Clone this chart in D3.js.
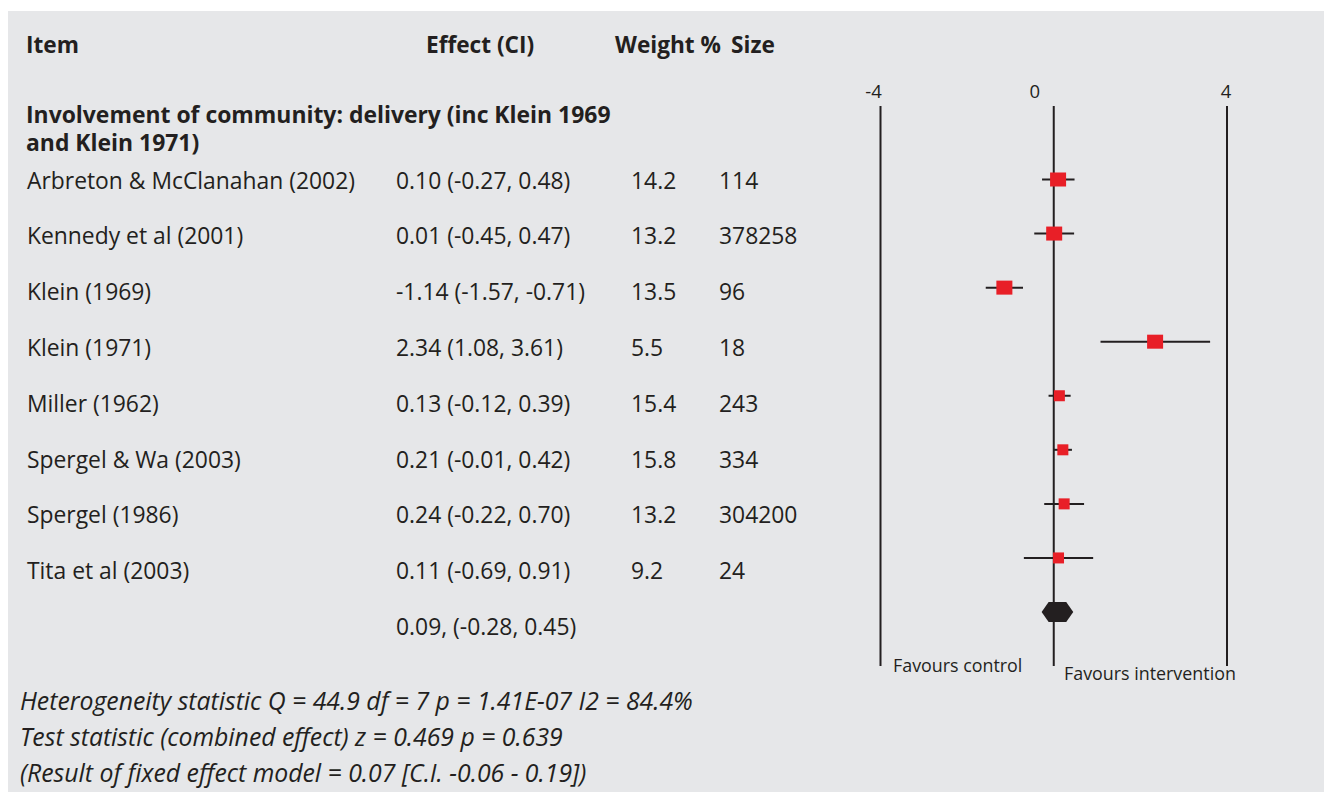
<!DOCTYPE html>
<html><head><meta charset="utf-8">
<script src="https://cdn.jsdelivr.net/npm/d3@7"></script>
<style>html,body{margin:0;padding:0;background:#fff;}svg{display:block;}</style>
</head><body>
<svg id="chart" width="1324" height="793"></svg>
<script>
// ---- data ----
const headers = ["Item", "Effect (CI)", "Weight %", "Size"];
const groupTitle = ["Involvement of community: delivery (inc Klein 1969", "and Klein 1971)"];
const studies = ["Arbreton & McClanahan (2002)", "Kennedy et al (2001)", "Klein (1969)", "Klein (1971)",
  "Miller (1962)", "Spergel & Wa (2003)", "Spergel (1986)", "Tita et al (2003)"];
const effect = [0.10, 0.01, -1.14, 2.34, 0.13, 0.21, 0.24, 0.11];
const ciLow = [-0.27, -0.45, -1.57, 1.08, -0.12, -0.01, -0.22, -0.69];
const ciHigh = [0.48, 0.47, -0.71, 3.61, 0.39, 0.42, 0.70, 0.91];
const weight = ["14.2", "13.2", "13.5", "5.5", "15.4", "15.8", "13.2", "9.2"];
const size = ["114", "378258", "96", "18", "243", "334", "304200", "24"];
const pooled = {est: 0.09, lo: -0.28, hi: 0.45};
const pooledLabel = "0.09, (-0.28, 0.45)";
const axisTicks = [-4, 0, 4];
const sideLabels = ["Favours control", "Favours intervention"];
const footnotes = ["Heterogeneity statistic Q = 44.9 df = 7 p = 1.41E-07 I2 = 84.4%",
  "Test statistic (combined effect) z = 0.469 p = 0.639",
  "(Result of fixed effect model = 0.07 [C.I. -0.06 - 0.19])"];

// ---- drawing ----
const svg = d3.select("#chart");
const ink = "#231f20", red = "#e81f27";
const FONT = "'Open Sans', 'Noto Sans', sans-serif";

svg.append("rect").attr("x", 8).attr("y", 11).attr("width", 1316).attr("height", 781).attr("fill", "#e6e7e9");

function fitSize(str, target, weightStr, style) {
  const t = svg.append("text").attr("font-family", FONT).attr("font-size", 20)
    .attr("font-weight", weightStr || "normal").attr("font-style", style || "normal").text(str);
  const w = t.node().getComputedTextLength(); t.remove();
  return 20 * target / w;
}
const rowFS = fitSize(studies[0], 328);
const headFS = Math.min(fitSize(headers[1], 111, "bold"), fitSize(headers[2], 106, "bold"));
const grpFS = fitSize(groupTitle[0], 585, "bold");
const footFS = fitSize(footnotes[0], 673, "normal", "italic");
const sideFS = fitSize(sideLabels[1], 172);

const yText = d3.scaleLinear().domain([0, 8]).range([188.5, 635]);
const yPlot = d3.scaleLinear().domain([0, 8]).range([179.5, 612]);
const x = d3.scaleLinear().domain([-4, 4]).range([880.5, 1227]);

const g = svg.append("g").attr("font-family", FONT).attr("fill", ink);
const colX = [26, 426, 615, 731];
g.selectAll("text.hdr").data(headers).join("text").attr("class", "hdr")
  .attr("x", (d, i) => colX[i]).attr("y", 53).attr("font-weight", "bold").attr("font-size", headFS).text(d => d);
g.selectAll("text.grp").data(groupTitle).join("text").attr("class", "grp")
  .attr("x", 26).attr("y", (d, i) => 123 + i * 28).attr("font-weight", "bold").attr("font-size", grpFS).text(d => d);

const rowCols = [27, 396, 631, 719];
studies.forEach((s, i) => {
  const vals = [s, `${effect[i].toFixed(2)} (${ciLow[i].toFixed(2)}, ${ciHigh[i].toFixed(2)})`, weight[i], size[i]];
  g.selectAll(null).data(vals).join("text").attr("x", (d, j) => rowCols[j]).attr("y", yText(i))
    .attr("font-size", rowFS).text(d => d);
});
g.append("text").attr("x", rowCols[1]).attr("y", yText(8)).attr("font-size", rowFS).text(pooledLabel);

g.selectAll("text.foot").data(footnotes).join("text").attr("class", "foot")
  .attr("x", 20).attr("y", (d, i) => 710 + i * 36).attr("font-style", "italic").attr("font-size", footFS).text(d => d);

// forest plot
const p = svg.append("g");
p.selectAll("line.ref").data(axisTicks).join("line").attr("class", "ref")
  .attr("x1", d => x(d)).attr("x2", d => x(d)).attr("y1", 106).attr("y2", 666)
  .attr("stroke", ink).attr("stroke-width", 2);
const tickDx = {"-4": -7, "0": -19, "4": -1};
p.selectAll("text.tick").data(axisTicks).join("text").attr("class", "tick")
  .attr("x", d => x(d) + tickDx[d]).attr("y", 98).attr("text-anchor", "middle")
  .attr("font-family", FONT).attr("font-size", 18.5).attr("fill", ink).text(d => d);

const rows = studies.map((s, i) => ({i, est: effect[i], lo: ciLow[i], hi: ciHigh[i]}));
p.selectAll("line.ci").data(rows).join("line").attr("class", "ci")
  .attr("x1", d => x(d.lo)).attr("x2", d => x(d.hi)).attr("y1", d => yPlot(d.i)).attr("y2", d => yPlot(d.i))
  .attr("stroke", ink).attr("stroke-width", 2);
const bw = d => d.i < 4 ? 16 : 11, bh = d => d.i < 4 ? 14 : 11;
p.selectAll("rect.box").data(rows).join("rect").attr("class", "box")
  .attr("x", d => x(d.est) - bw(d) / 2).attr("y", d => yPlot(d.i) - bh(d) / 2)
  .attr("width", bw).attr("height", bh).attr("fill", red);

const yc = yPlot(8), hx = 7, hh = 10;
const hex = [[x(pooled.lo), yc], [x(pooled.lo) + hx, yc - hh], [x(pooled.hi) - hx, yc - hh],
  [x(pooled.hi), yc], [x(pooled.hi) - hx, yc + hh], [x(pooled.lo) + hx, yc + hh]];
p.append("path").attr("d", d3.line()(hex) + "Z").attr("fill", ink);

p.append("text").attr("x", 893).attr("y", 672).attr("font-family", FONT).attr("font-size", sideFS)
  .attr("fill", ink).text(sideLabels[0]);
p.append("text").attr("x", 1064).attr("y", 680).attr("font-family", FONT).attr("font-size", sideFS)
  .attr("fill", ink).text(sideLabels[1]);
</script>
</body></html>
